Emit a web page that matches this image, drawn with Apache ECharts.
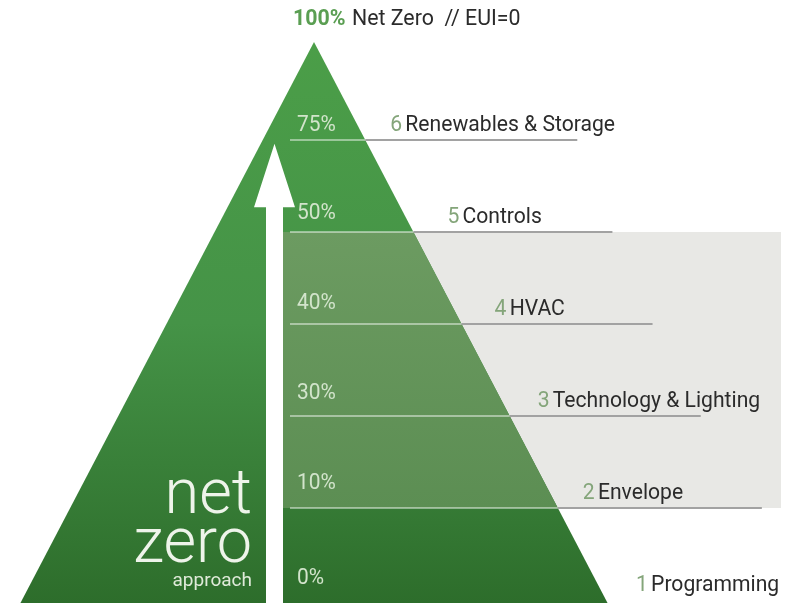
<!DOCTYPE html>
<html>
<head>
<meta charset="utf-8">
<script src="https://cdn.jsdelivr.net/npm/echarts@6/dist/echarts.min.js"></script>
<style>
  html, body { margin: 0; padding: 0; background: #fff; }
  #chart { width: 787px; height: 603px; }
</style>
</head>
<body>
<div id="chart"></div>
<script>
// pyramid steps, from the base up
const stepPct = ['0%', '10%', '30%', '40%', '50%', '75%'];
const stepNo = ['1', '2', '3', '4', '5', '6'];
const stepName = ['Programming', 'Envelope', 'Technology & Lighting', 'HVAC', 'Controls', 'Renewables & Storage'];
const topPct = '100%';
const topName = 'Net Zero  // EUI=0';
const bandSteps = [1, 4]; // shaded band, 10% .. 50%
const sideText = ['net', 'zero', 'approach'];

// layout: x axis in px, y axis in steps (92px each)
const CX = 314, HALF = 292, APEX = 6.065, BASE = -0.04;
const SHAFT = [266, 283], HEAD = [254, 295], HEAD_BASE = 4.27, HEAD_TIP = 4.96;
const RULE_X = 290, BAND_RIGHT = 781, PCT_X = 297;
const RULE_PAD = [0, 204, 191, 191, 199, 212];   // rule length past the pyramid edge
const LABEL_PAD = [30, 25, 28, 33, 34, 25];      // name offset from the pyramid edge
const PCT_DY = [-22, -25, -23, -21, -19, -15];   // percent label lift above its rule
const FONT = 'Roboto, "Noto Sans", sans-serif';
const edgeX = s => CX + HALF * (1 - s / APEX);

const chart = echarts.init(document.getElementById('chart'));

const option = {
  animation: false,
  grid: { left: 0, right: 0, top: 0, bottom: 0 },
  xAxis: { type: 'value', min: 0, max: 787, show: false },
  yAxis: { type: 'value', min: -3 / 92, max: 600 / 92, show: false },
  series: [
    {
      // grey band behind the pyramid
      type: 'custom',
      silent: true,
      data: [bandSteps],
      renderItem(params, api) {
        const a = api.coord([SHAFT[1], api.value(1)]);
        const b = api.coord([BAND_RIGHT, api.value(0)]);
        return {
          type: 'rect',
          shape: { x: a[0], y: a[1], width: b[0] - a[0], height: b[1] - a[1] },
          style: { fill: '#e8e8e5' }
        };
      }
    },
    {
      // the pyramid
      type: 'custom',
      silent: true,
      data: [[BASE, APEX]],
      renderItem(params, api) {
        const s0 = api.value(0), s1 = api.value(1);
        const pts = [
          api.coord([CX - HALF * (1 - s0 / APEX), s0]),
          api.coord([CX, s1]),
          api.coord([edgeX(s0), s0])
        ];
        return {
          type: 'polygon',
          shape: { points: pts },
          style: {
            fill: new echarts.graphic.LinearGradient(0, 0, 0, 1, [
              { offset: 0, color: '#4b9e48' },
              { offset: 0.5, color: '#459347' },
              { offset: 1, color: '#2d6d2b' }
            ])
          }
        };
      }
    },
    {
      // band seen through the pyramid
      type: 'custom',
      silent: true,
      data: [bandSteps],
      renderItem(params, api) {
        const lo = api.value(0), hi = api.value(1);
        const pts = [
          api.coord([SHAFT[1], lo]),
          api.coord([edgeX(lo), lo]),
          api.coord([edgeX(hi), hi]),
          api.coord([SHAFT[1], hi])
        ];
        return {
          type: 'polygon',
          shape: { points: pts },
          style: {
            fill: new echarts.graphic.LinearGradient(0, 0, 0, 1, [
              { offset: 0, color: '#6c9b61' },
              { offset: 1, color: '#5c8e53' }
            ])
          }
        };
      }
    },
    {
      // white arrow
      type: 'custom',
      silent: true,
      data: [[BASE, HEAD_TIP]],
      renderItem(params, api) {
        const s0 = api.value(0), tip = api.value(1);
        const mid = (HEAD[0] + HEAD[1]) / 2;
        const pts = [
          [SHAFT[0], s0], [SHAFT[0], HEAD_BASE], [HEAD[0], HEAD_BASE], [mid, tip],
          [HEAD[1], HEAD_BASE], [SHAFT[1], HEAD_BASE], [SHAFT[1], s0]
        ].map(p => api.coord(p));
        return { type: 'polygon', shape: { points: pts }, style: { fill: '#ffffff' } };
      }
    },
    {
      // step rules
      type: 'custom',
      silent: true,
      data: stepPct.map((p, i) => [i]).slice(1),
      renderItem(params, api) {
        const s = api.value(0);
        const a = api.coord([RULE_X, s]);
        const e = api.coord([edgeX(s), s]);
        const b = api.coord([edgeX(s) + RULE_PAD[s], s]);
        return {
          type: 'group',
          children: [
            { type: 'line', shape: { x1: a[0], y1: a[1], x2: e[0], y2: e[1] }, style: { stroke: 'rgba(255,255,255,0.45)', lineWidth: 2 } },
            { type: 'line', shape: { x1: e[0], y1: e[1], x2: b[0], y2: b[1] }, style: { stroke: '#a2a2a2', lineWidth: 2 } }
          ]
        };
      }
    },
    {
      // step labels
      type: 'custom',
      silent: true,
      data: stepPct.map((p, i) => [i]),
      renderItem(params, api) {
        const i = api.value(0);
        const p = api.coord([PCT_X, i]);
        const q = api.coord([edgeX(i) + LABEL_PAD[i], i]);
        return {
          type: 'group',
          children: [
            {
              type: 'text', x: p[0], y: p[1] + PCT_DY[i], scaleX: 0.95,
              style: { text: stepPct[i], fill: '#d2e4cb', fontSize: 22, fontFamily: FONT, align: 'left', verticalAlign: 'middle' }
            },
            {
              type: 'text', x: q[0], y: q[1] - 15, scaleX: 0.96,
              style: {
                text: '{n|' + stepNo[i] + '} {t|' + stepName[i] + '}',
                align: 'left', verticalAlign: 'middle',
                rich: {
                  n: { fill: '#84a57a', fontSize: 22, fontFamily: FONT },
                  t: { fill: '#2b2b2b', fontSize: 22, fontFamily: FONT }
                }
              }
            }
          ]
        };
      }
    },
    {
      // top label and the "net zero approach" words
      type: 'custom',
      silent: true,
      data: [[APEX]],
      renderItem(params, api) {
        const top = api.coord([CX - 21, api.value(0)]);
        const side = api.coord([SHAFT[0] - 14, 0]);
        return {
          type: 'group',
          children: [
            {
              type: 'text', x: top[0], y: top[1] - 23, scaleX: 0.97,
              style: {
                text: '{p|' + topPct + '}  {t|' + topName + '}',
                align: 'left', verticalAlign: 'middle',
                rich: {
                  p: { fill: '#5a9e52', fontSize: 22, fontWeight: 'bold', fontFamily: FONT },
                  t: { fill: '#2b2b2b', fontSize: 22, fontFamily: FONT }
                }
              }
            },
            {
              type: 'text', x: side[0], y: side[1] - 71,
              style: { text: sideText[0], fill: '#eef4ea', fontSize: 63, fontWeight: 300, fontFamily: FONT, align: 'right', verticalAlign: 'bottom' }
            },
            {
              type: 'text', x: side[0], y: side[1] - 22,
              style: { text: sideText[1], fill: '#eef4ea', fontSize: 63, fontWeight: 300, fontFamily: FONT, align: 'right', verticalAlign: 'bottom' }
            },
            {
              type: 'text', x: side[0], y: side[1] - 9,
              style: { text: sideText[2], fill: '#dfead9', fontSize: 19, fontFamily: FONT, align: 'right', verticalAlign: 'bottom' }
            }
          ]
        };
      }
    }
  ]
};

chart.setOption(option);
</script>
</body>
</html>
